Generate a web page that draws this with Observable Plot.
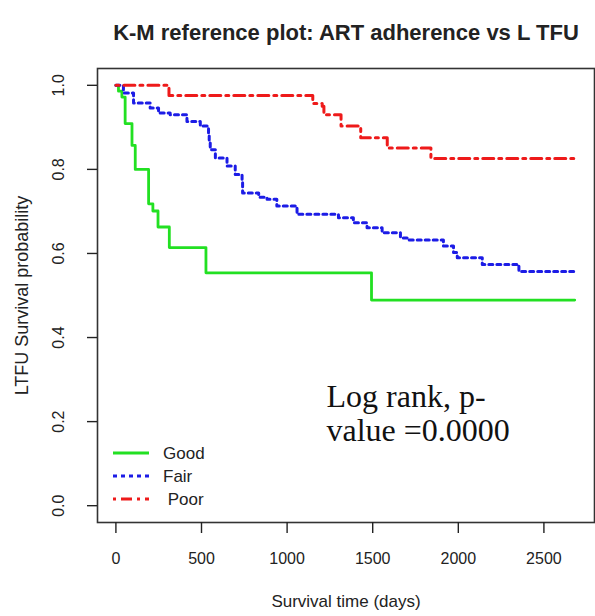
<!DOCTYPE html>
<html>
<head>
<meta charset="utf-8">
<script src="https://cdn.jsdelivr.net/npm/d3@7"></script>
<script src="https://cdn.jsdelivr.net/npm/@observablehq/plot@0.6"></script>
<style>
  html, body { margin: 0; padding: 0; background: #fff; }
  svg { display: block; }
</style>
</head>
<body>
<div id="chart"></div>
<script>
// ---- Data ----
const titleText = "K-M reference plot: ART adherence vs L TFU";
const xLabel = "Survival time (days)";
const yLabel = "LTFU Survival probability";
const annotation = "Log rank, p-\nvalue =0.0000";

const xTicks = [0, 500, 1000, 1500, 2000, 2500];
const yTicks = [0, 0.2, 0.4, 0.6, 0.8, 1.0];

const groups = ["Good", "Fair", "Poor"];
const groupLabels = ["Good", "Fair", " Poor"];
const groupColors = ["#22e022", "#1c1ce6", "#ee1a1a"];
const groupDash = ["none", "4 4", "3 5 11 5"];

const goodTime = [0, 15, 35, 54, 94, 113, 191, 216, 246, 312, 526, 1493, 2680];
const goodSurv = [1, 0.986, 0.972, 0.909, 0.857, 0.80, 0.718, 0.701, 0.663, 0.614, 0.554, 0.489, 0.489];

const fairTime = [0, 44, 103, 200, 249, 317, 415, 493, 541, 545, 551, 581, 649, 697, 737, 740, 834, 883, 940, 1058, 1300, 1387, 1467, 1555, 1662, 1701, 1913, 1972, 1994, 2140, 2354, 2686];
const fairSurv = [1, 0.982, 0.958, 0.946, 0.934, 0.930, 0.914, 0.903, 0.887, 0.867, 0.847, 0.827, 0.808, 0.788, 0.776, 0.744, 0.734, 0.729, 0.713, 0.693, 0.685, 0.673, 0.661, 0.649, 0.637, 0.632, 0.618, 0.602, 0.590, 0.574, 0.557, 0.557];

const poorTime = [0, 310, 1150, 1205, 1215, 1315, 1430, 1585, 1840, 2703];
const poorSurv = [1, 0.976, 0.957, 0.950, 0.930, 0.903, 0.875, 0.851, 0.826, 0.826];

// ---- Build tables ----
const toRows = (g, t, s) => t.map((d, i) => ({group: g, time: d, surv: s[i]}));
const series = [
  toRows("Good", goodTime, goodSurv),
  toRows("Fair", fairTime, fairSurv),
  toRows("Poor", poorTime, poorSurv)
];

const lineMarks = series.map((rows, i) =>
  Plot.line(rows, {
    x: "time", y: "surv", curve: "step-after",
    stroke: groupColors[i], strokeWidth: i === 0 ? 2.8 : 3,
    strokeDasharray: groupDash[i] === "none" ? null : groupDash[i]
  })
);

const plot = Plot.plot({
  width: 595,
  height: 616,
  marginLeft: 97,
  marginRight: 1,
  marginTop: 68,
  marginBottom: 94,
  x: {domain: [-107.5, 2795.5]},
  y: {domain: [-0.04, 1.04]},
  style: {fontFamily: "'Liberation Sans', Arial, sans-serif", background: "#fff", color: "#222"},
  marks: [
    ...lineMarks,
    Plot.frame({stroke: "#333", strokeWidth: 1.6}),
    Plot.axisX({ticks: xTicks, tickSize: 11, tickPadding: 19, fontSize: 16, label: null,
                tickFormat: d => String(d), strokeWidth: 1.4}),
    Plot.axisY({ticks: yTicks, tickSize: 10, tickFormat: () => "", label: null, strokeWidth: 1.4}),
    Plot.text(yTicks, {y: d => d, frameAnchor: "left", dx: -39, rotate: -90, textAnchor: "middle",
                       text: d => d.toFixed(1), fontSize: 16}),
    Plot.text([titleText], {frameAnchor: "top", dy: -44, fontSize: 22, fontWeight: "bold"}),
    Plot.text([xLabel], {frameAnchor: "bottom", dy: 84, fontSize: 17}),
    Plot.text([yLabel], {frameAnchor: "left", dx: -75, rotate: -90, textAnchor: "middle", fontSize: 18}),
    Plot.text([annotation], {x: () => 1230, y: () => 0.22, textAnchor: "start",
                             fontFamily: "'Liberation Serif', 'Times New Roman', serif",
                             fontSize: 32, lineHeight: 1.07, fill: "#111"})
  ]
});

// ---- Legend (drawn inside the plot frame, bottom-left) ----
const svg = d3.select(plot);
const leg = svg.append("g").attr("font-family", "'Liberation Sans', Arial, sans-serif")
  .attr("font-size", 17).attr("fill", "#222").attr("text-anchor", "start");
groups.forEach((g, i) => {
  const y = 453 + i * 23;
  leg.append("line")
    .attr("x1", 113).attr("x2", 149).attr("y1", y).attr("y2", y)
    .attr("stroke", groupColors[i]).attr("stroke-width", 3)
    .attr("stroke-dasharray", groupDash[i] === "none" ? null : groupDash[i]);
  leg.append("text")
    .attr("x", 163).attr("y", y).attr("dy", "0.35em")
    .style("white-space", "pre")
    .text(groupLabels[i]);
});

document.getElementById("chart").appendChild(plot);
</script>
</body>
</html>
